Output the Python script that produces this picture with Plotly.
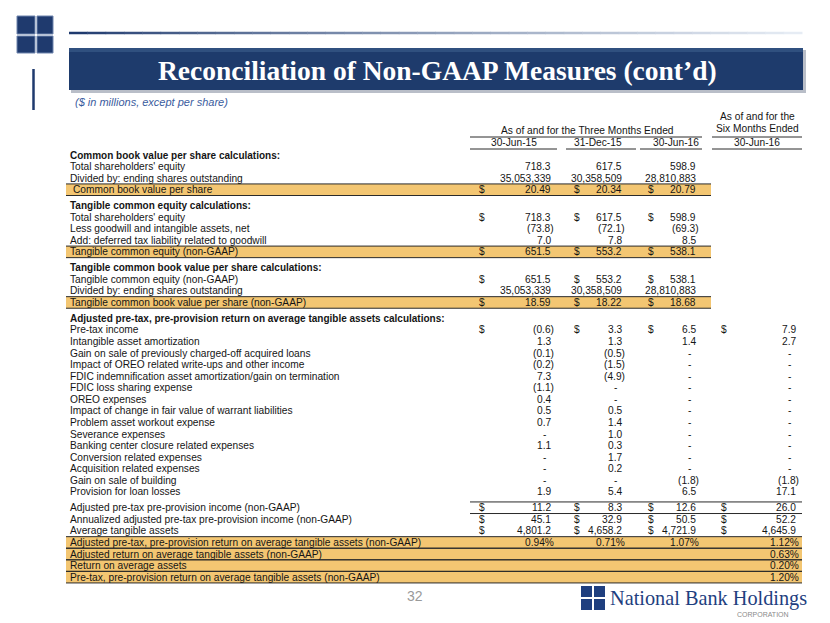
import plotly.graph_objects as go

# ---------------- data ----------------
title = "Reconciliation of Non-GAAP Measures (cont’d)"
subtitle = "($ in millions, except per share)"
group_header = "As of and for the Three Months Ended"
six_header = ["As of and for the", "Six Months Ended"]
periods = ["30-Jun-15", "31-Dec-15", "30-Jun-16", "30-Jun-16"]
page_number = "32"
company = "National Bank Holdings"
company_sub = "CORPORATION"

row_labels = [
    "Common book value per share calculations:",
    "Total shareholders' equity",
    "Divided by: ending shares outstanding",
    "Common book value per share",
    "Tangible common equity calculations:",
    "Total shareholders' equity",
    "Less goodwill and intangible assets, net",
    "Add: deferred tax liability related to goodwill",
    "Tangible common equity (non-GAAP)",
    "Tangible common book value per share calculations:",
    "Tangible common equity (non-GAAP)",
    "Divided by: ending shares outstanding",
    "Tangible common book value per share (non-GAAP)",
    "Adjusted pre-tax, pre-provision return on average tangible assets calculations:",
    "Pre-tax income",
    "Intangible asset amortization",
    "Gain on sale of previously charged-off acquired loans",
    "Impact of OREO related write-ups and other income",
    "FDIC indemnification asset amortization/gain on termination",
    "FDIC loss sharing expense",
    "OREO expenses",
    "Impact of change in fair value of warrant liabilities",
    "Problem asset workout expense",
    "Severance expenses",
    "Banking center closure related expenses",
    "Conversion related expenses",
    "Acquisition related expenses",
    "Gain on sale of building",
    "Provision for loan losses",
    "Adjusted pre-tax pre-provision income (non-GAAP)",
    "Annualized adjusted pre-tax pre-provision income (non-GAAP)",
    "Average tangible assets",
    "Adjusted pre-tax, pre-provision return on average tangible assets (non-GAAP)",
    "Adjusted return on average tangible assets (non-GAAP)",
    "Return on average assets",
    "Pre-tax, pre-provision return on average tangible assets (non-GAAP)",
]

row_kinds = (["section", "item", "item", "highlight"]
             + ["section", "item", "item", "item", "highlight"]
             + ["section", "item", "item", "highlight"]
             + ["section"] + ["item"] * 15
             + ["total", "item", "item"]
             + ["ratio"] * 4)

jun15 = ["", "718.3", "35,053,339", "20.49",
         "", "718.3", "(73.8)", "7.0", "651.5",
         "", "651.5", "35,053,339", "18.59",
         "", "(0.6)", "1.3", "(0.1)", "(0.2)", "7.3", "(1.1)", "0.4", "0.5", "0.7",
         "-", "1.1", "-", "-", "-", "1.9",
         "11.2", "45.1", "4,801.2", "0.94%", "", "", ""]
dec15 = ["", "617.5", "30,358,509", "20.34",
         "", "617.5", "(72.1)", "7.8", "553.2",
         "", "553.2", "30,358,509", "18.22",
         "", "3.3", "1.3", "(0.5)", "(1.5)", "(4.9)", "-", "-", "0.5", "1.4",
         "1.0", "0.3", "1.7", "0.2", "-", "5.4",
         "8.3", "32.9", "4,658.2", "0.71%", "", "", ""]
jun16 = ["", "598.9", "28,810,883", "20.79",
         "", "598.9", "(69.3)", "8.5", "538.1",
         "", "538.1", "28,810,883", "18.68",
         "", "6.5", "1.4", "-", "-", "-", "-", "-", "-", "-",
         "-", "-", "-", "-", "(1.8)", "6.5",
         "12.6", "50.5", "4,721.9", "1.07%", "", "", ""]
six_jun16 = ["", "", "", "",
             "", "", "", "", "",
             "", "", "", "",
             "", "7.9", "2.7", "-", "-", "-", "-", "-", "-", "-",
             "-", "-", "-", "-", "(1.8)", "17.1",
             "26.0", "52.2", "4,645.9", "1.12%", "0.63%", "0.20%", "1.20%"]

# rows carrying a "$" sign (row indices)
dollar_rows_quarter = [3, 5, 8, 10, 12, 14, 29, 30, 31]
dollar_rows_six = [14, 29, 30, 31]

columns = [jun15, dec15, jun16, six_jun16]

# ---------------- layout constants ----------------
W, H = 830, 623
OFF = 8  # page body margin of the html page
NAVY = "#1F3A6E"
HILITE = "#F3C672"
TXT = "#151515"
FONT = "Liberation Sans, Arial, sans-serif"
SERIF = "Liberation Serif, Times New Roman, serif"
FS = 10.2

y0, rh, gap = 155.0, 11.57, 4.3
x_label = 69
dollar_x = [478, 573, 647, 720]
right_x = [555, 626, 700, 800]
band_left, band_right_q, band_right_6 = 66, 711, 802

# row centres
row_y = []
acc = 0.0
for i, k in enumerate(row_kinds):
    if i > 0 and k in ("section", "total"):
        acc += gap
    row_y.append(y0 + i * rh + acc)

shapes = []
annots = []


def txt(x, y, s, size=FS, anchor="left", color=TXT, family=FONT, bold=False, italic=False):
    if bold:
        s = "<b>" + s + "</b>"
    if italic:
        s = "<i>" + s + "</i>"
    annots.append(dict(x=x, y=y, xref="x", yref="y", text=s, showarrow=False,
                       xanchor=anchor, yanchor="middle", borderpad=0,
                       font=dict(size=size, color=color, family=family)))


def line(x0, x1, y, color="#2a2a2a", w=1):
    shapes.append(dict(type="line", xref="x", yref="y", x0=x0, x1=x1, y0=y, y1=y,
                       line=dict(color=color, width=w)))


def rect(x0, x1, ya, yb, fill, lw=0, lc=None, layer="below"):
    shapes.append(dict(type="rect", xref="x", yref="y", x0=x0, x1=x1, y0=ya, y1=yb,
                       fillcolor=fill, line=dict(width=lw, color=lc or fill), layer=layer))


# ---------------- decoration: header ----------------
for (xa, xb) in [(17, 35), (37, 53)]:
    for (ya, yb) in [(16, 34), (36, 53)]:
        rect(xa, xb, ya, yb, NAVY, lw=1, lc="#6f84ad")
shapes.append(dict(type="line", xref="x", yref="y", x0=33.5, x1=33.5, y0=69, y1=110,
                   line=dict(color=NAVY, width=2.5)))
nseg = 40
c0 = (31, 58, 110)
c1 = (230, 236, 244)
for s in range(nseg):
    t = s / (nseg - 1)
    c = tuple(int(c0[j] + (c1[j] - c0[j]) * t ** 0.8) for j in range(3))
    xa = 69 + (802 - 69) * s / nseg
    xb = 69 + (802 - 69) * (s + 1) / nseg
    shapes.append(dict(type="line", xref="x", yref="y", x0=xa, x1=xb + 0.5, y0=33, y1=33,
                       line=dict(color="rgb(%d,%d,%d)" % c, width=2.5)))
rect(71, 806, 50, 93, "#b9bec8")
rect(69, 803, 48, 90, "#1E3B6C")
rect(69, 803, 48, 52, "#30507f")
txt(437, 70, title, size=27.5, anchor="center", color="white", family=SERIF, bold=True)
txt(74, 102, subtitle, size=11, color="#3A5C9E", italic=True)

# ---------------- table header ----------------
txt(587, 130, group_header, anchor="center")
txt(757, 116, six_header[0], anchor="center")
txt(757, 128.5, six_header[1], anchor="center")
line(470, 702, 137)
line(712, 802, 137)
for x0_, x1_ in [(470, 557), (566, 636), (640, 702), (712, 802)]:
    line(x0_, x1_, 149)
for cx, p in zip([514, 598, 676, 757], periods):
    txt(cx, 142.5, p, anchor="center")

# ---------------- highlight bands ----------------
half = rh / 2
for i, k in enumerate(row_kinds):
    if k == "highlight":
        rect(band_left, band_right_q, row_y[i] - half, row_y[i] + half, HILITE)
        line(band_left, band_right_q, row_y[i] - half)
        line(band_left, band_right_q, row_y[i] + half)
    elif k == "ratio":
        rect(band_left, band_right_6, row_y[i] - half, row_y[i] + half, HILITE)
        line(band_left, band_right_6, row_y[i] - half)
        line(band_left, band_right_6, row_y[i] + half)
    elif k == "total":
        line(470, band_right_6, row_y[i] - half)
        line(470, band_right_6, row_y[i] + half)

# ---------------- rows ----------------
for i, (lab, k) in enumerate(zip(row_labels, row_kinds)):
    y = row_y[i]
    lx = x_label + (3 if i == 3 else 0)
    txt(lx, y, lab, size=(10 if k == "section" else FS), bold=(k == "section"))
    for c, col in enumerate(columns):
        v = col[i]
        if not v:
            continue
        if v == "-":
            txt(right_x[c] - 11, y, v, anchor="center")
        elif v.endswith(")") or v.endswith("%"):
            txt(right_x[c], y, v, anchor="right")
        else:
            txt(right_x[c] - 3, y, v, anchor="right")
    if i in dollar_rows_quarter:
        for c in range(3):
            txt(dollar_x[c], y, "$", anchor="left")
    if i in dollar_rows_six:
        txt(dollar_x[3], y, "$", anchor="left")

# ---------------- footer ----------------
txt(415, 596, page_number, size=14, anchor="center", color="#9a9a9a")
for (xa, xb) in [(581, 592), (594, 605)]:
    for (ya, yb) in [(586, 597), (599, 610)]:
        rect(xa, xb, ya, yb, "#1F3F7F")
txt(609, 598, company, size=20.3, anchor="left", color="#1F3F7F", family=SERIF)
txt(790, 614, company_sub, size=7, anchor="right", color="#8a8a8a")

fig = go.Figure()
fig.add_trace(go.Scatter(x=[OFF, W], y=[OFF, H], mode="markers",
                         marker=dict(opacity=0), hoverinfo="skip", showlegend=False))
fig.update_layout(
    width=W - OFF, height=H - OFF, margin=dict(l=0, r=0, t=0, b=0),
    paper_bgcolor="white", plot_bgcolor="white",
    xaxis=dict(range=[OFF, W], visible=False, fixedrange=True),
    yaxis=dict(range=[H, OFF], visible=False, fixedrange=True),
    shapes=shapes, annotations=annots, showlegend=False,
)
fig.write_html("out.html")
